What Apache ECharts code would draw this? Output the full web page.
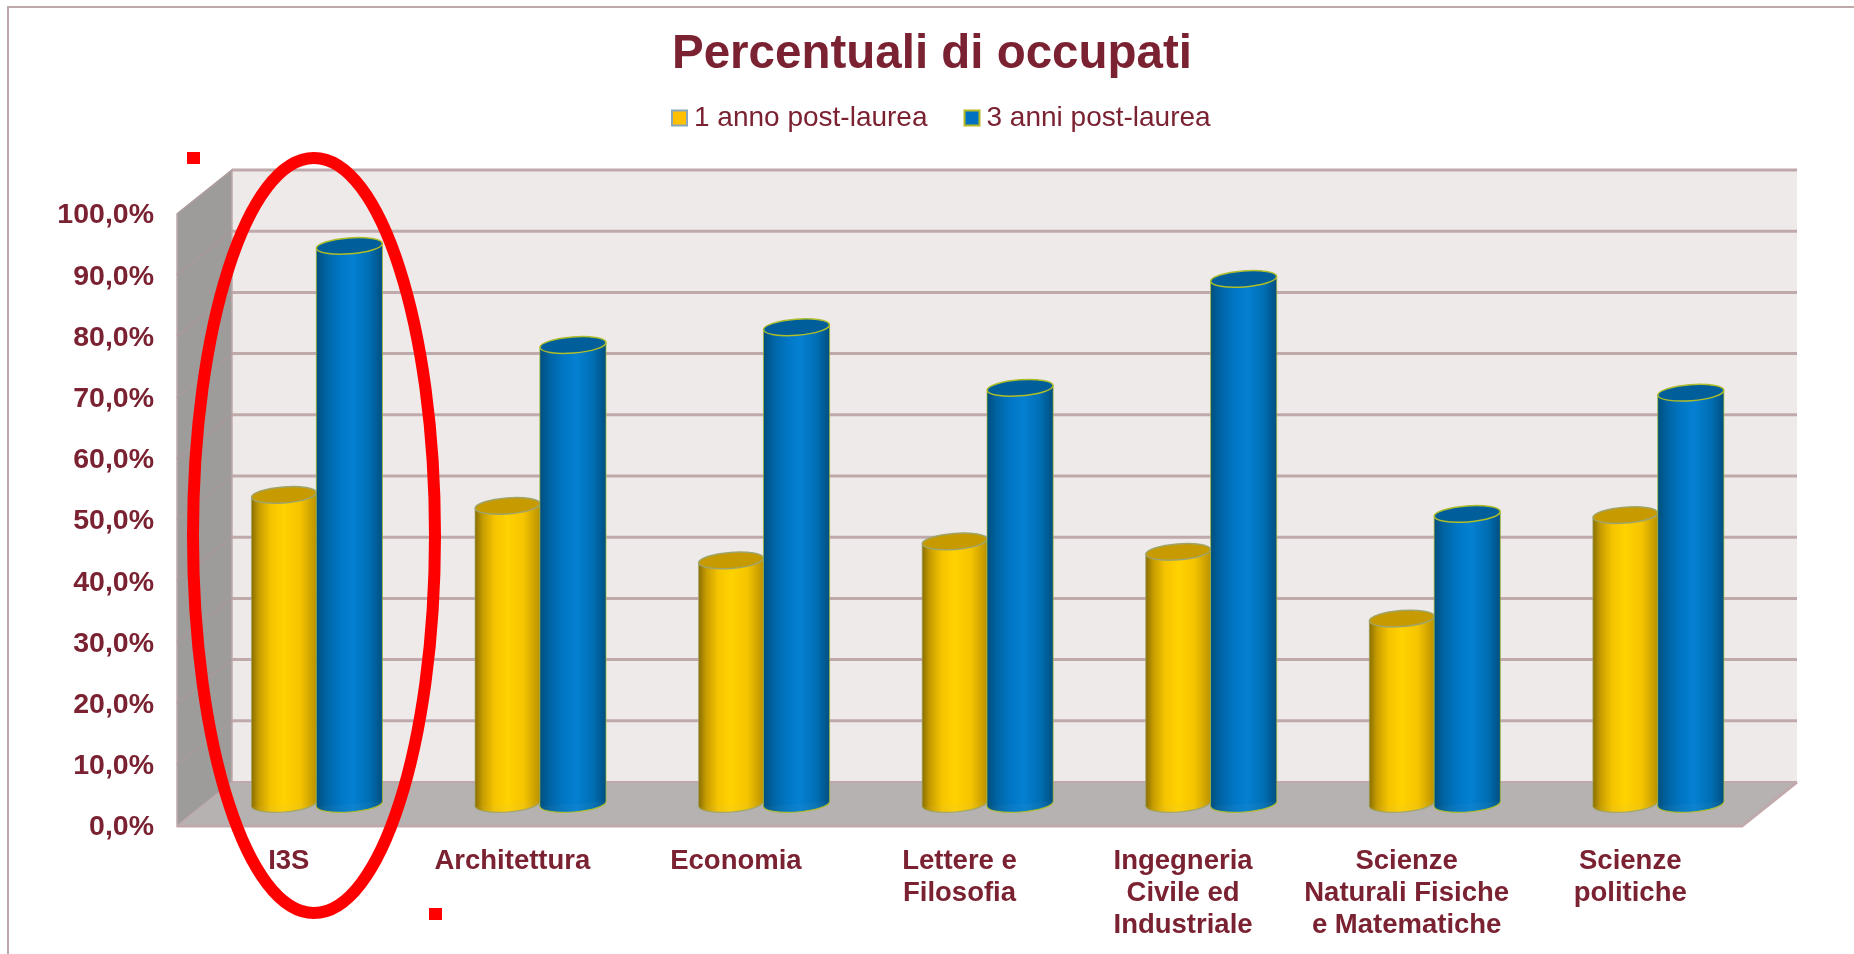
<!DOCTYPE html>
<html>
<head>
<meta charset="utf-8">
<style>
  html, body { margin: 0; padding: 0; background: #fff; }
  #chart { width: 1854px; height: 954px; }
</style>
<script src="https://cdn.jsdelivr.net/npm/echarts@6/dist/echarts.min.js"></script>
</head>
<body>
<div id="chart"></div>
<script>
const categories = ['I3S', 'Architettura', 'Economia', 'Lettere e\nFilosofia', 'Ingegneria\nCivile ed\nIndustriale', 'Scienze\nNaturali Fisiche\ne Matematiche', 'Scienze\npolitiche']
const unAnno = [50.5, 48.7, 39.8, 42.9, 41.2, 30.3, 47.2]
const treAnni = [91.2, 75.0, 77.9, 68.0, 85.8, 47.4, 67.2]
const yTicks = [10, 20, 30, 40, 50, 60, 70, 80, 90, 100]

const textColor = '#7b2232'
const lineColor = '#bfa9ab'
const depthX = 55 // profondita' della scena 3D
const depthY = -44
const tilt = 0.075

function hGradient (stops) {
  return new echarts.graphic.LinearGradient(0, 0, 1, 0, stops.map((c, i) => ({ offset: c[0], color: c[1] })))
}
const yellowBody = [[0, '#8a6f00'], [0.12, '#c79d00'], [0.3, '#f5c400'], [0.5, '#ffd200'], [0.75, '#f5c400'], [1, '#bb9200']]
const blueBody = [[0, '#004f7d'], [0.15, '#0064a4'], [0.35, '#0076c4'], [0.55, '#0480d2'], [0.8, '#006fb5'], [1, '#004f80']]

// pareti e pavimento del grafico 3D
function renderWalls (params, api) {
  const left = api.coord([0, 0])[0] - api.size([1, 0])[0] / 2
  const right = left + api.size([1, 0])[0] * categories.length
  const y0 = api.coord([0, 0])[1]
  const y100 = api.coord([0, 100])[1]
  const children = [
    { type: 'rect', shape: { x: left + depthX, y: y100 + depthY, width: right - left, height: y0 - y100 }, style: { fill: '#eeeaea' } },
    { type: 'polygon', shape: { points: [[left, y100], [left + depthX, y100 + depthY], [left + depthX, y0 + depthY], [left, y0]] }, style: { fill: '#9d9c9a', stroke: lineColor, lineWidth: 1.5 } }
  ]
  yTicks.forEach(t => {
    const y = api.coord([0, t])[1]
    children.push({ type: 'line', shape: { x1: left + depthX, y1: y + depthY, x2: right + depthX, y2: y + depthY }, style: { stroke: lineColor, lineWidth: 3 } })
    children.push({ type: 'line', shape: { x1: left, y1: y, x2: left + depthX, y2: y + depthY }, style: { stroke: '#aa9a9b', lineWidth: 1.5 } })
  })
  children.push({ type: 'polygon', shape: { points: [[left, y0], [left + depthX, y0 + depthY], [right + depthX, y0 + depthY], [right, y0]] }, style: { fill: '#b6b2b1' } })
  children.push({ type: 'polyline', shape: { points: [[left + depthX, y0 + depthY], [right + depthX, y0 + depthY]] }, style: { stroke: lineColor, lineWidth: 2, fill: 'none' } })
  children.push({ type: 'polyline', shape: { points: [[left, y0], [right, y0], [right + depthX, y0 + depthY]] }, style: { stroke: lineColor, lineWidth: 3, fill: 'none' } })
  children.push({ type: 'line', shape: { x1: left, y1: y0, x2: left + depthX, y2: y0 + depthY }, style: { stroke: lineColor, lineWidth: 1.5 } })
  return { type: 'group', children }
}

function cylinder (side, widthRatio, stops, capColor, edgeColor) {
  return function (params, api) {
    const band = api.size([1, 0])[0]
    const w = band * widthRatio
    const base = api.coord([api.value(0), 0])
    const top = api.coord([api.value(0), api.value(1)])
    const cx = base[0] + depthX / 2 + side * w / 2
    const yBase = base[1] + depthY / 2
    const yTop = top[1] + depthY / 2
    const rx = w / 2
    const ry = 8
    const t = rx * tilt
    const fill = hGradient(stops)
    return {
      type: 'group',
      children: [
        { type: 'ellipse', shape: { cx: cx, cy: yBase, rx: rx, ry: ry }, rotation: tilt, originX: cx, originY: yBase, style: { fill: fill, stroke: edgeColor, lineWidth: 1.2, opacity: 0.95 } },
        { type: 'polygon', shape: { points: [[cx - rx, yTop + t], [cx + rx, yTop - t], [cx + rx, yBase - t], [cx - rx, yBase + t]] }, style: { fill: fill } },
        { type: 'line', shape: { x1: cx - rx, y1: yTop + t, x2: cx - rx, y2: yBase + t }, style: { stroke: edgeColor, lineWidth: 1, opacity: 0.7 } },
        { type: 'line', shape: { x1: cx + rx, y1: yTop - t, x2: cx + rx, y2: yBase - t }, style: { stroke: edgeColor, lineWidth: 1, opacity: 0.7 } },
        { type: 'ellipse', shape: { cx: cx, cy: yTop, rx: rx, ry: ry }, rotation: tilt, originX: cx, originY: yTop, style: { fill: capColor, stroke: edgeColor, lineWidth: 1.5 } }
      ]
    }
  }
}

const chart = echarts.init(document.getElementById('chart'))
chart.setOption({
  animation: false,
  backgroundColor: '#fff',
  textStyle: { fontFamily: 'Liberation Sans' },
  title: {
    text: 'Percentuali di occupati',
    left: 672,
    top: 31,
    padding: 0,
    textStyle: { color: textColor, fontSize: 47.5, fontWeight: 'bold', fontFamily: 'Liberation Sans' }
  },
  legend: {
    data: ['1 anno post-laurea', '3 anni post-laurea'],
    left: 671,
    top: 104,
    padding: 0,
    icon: 'rect',
    itemWidth: 15,
    itemHeight: 15,
    itemGap: 36,
    textStyle: { color: textColor, fontSize: 28, fontFamily: 'Liberation Sans', padding: [0, 0, 0, 2] }
  },
  grid: { left: 177, right: 112, top: 214, bottom: 128 },
  xAxis: {
    type: 'category',
    data: categories,
    axisLine: { show: false },
    axisTick: { show: false },
    axisLabel: { color: textColor, fontSize: 27.5, fontWeight: 'bold', lineHeight: 32, margin: 19, interval: 0, fontFamily: 'Liberation Sans' }
  },
  yAxis: {
    type: 'value',
    min: 0,
    max: 100,
    interval: 10,
    axisLine: { show: false },
    axisTick: { show: false },
    splitLine: { show: false },
    axisLabel: {
      color: textColor,
      fontSize: 28.5,
      fontWeight: 'bold',
      margin: 23,
      verticalAlign: 'top',
      padding: [-13, 0, 0, 0],
      fontFamily: 'Liberation Sans',
      formatter: v => v.toFixed(1).replace('.', ',') + '%'
    }
  },
  series: [
    {
      name: 'pareti',
      type: 'custom',
      silent: true,
      clip: false,
      z: 1,
      renderItem: renderWalls,
      data: [[0, 0]]
    },
    {
      name: '1 anno post-laurea',
      type: 'custom',
      clip: false,
      z: 2,
      itemStyle: { color: '#ffc000', borderColor: '#8aa6bd', borderWidth: 1.5 },
      renderItem: cylinder(-1, 0.29, yellowBody, '#c79a00', '#9fa56a'),
      encode: { x: 0, y: 1 },
      data: unAnno.map((v, i) => [i, v])
    },
    {
      name: '3 anni post-laurea',
      type: 'custom',
      clip: false,
      z: 3,
      itemStyle: { color: '#0070c0', borderColor: '#b5b820', borderWidth: 1.5 },
      renderItem: cylinder(1, 0.296, blueBody, '#005f9a', '#aebd2a'),
      encode: { x: 0, y: 1 },
      data: treAnni.map((v, i) => [i, v])
    }
  ],
  graphic: [
    // cornice della diapositiva
    { type: 'polyline', z: 0, shape: { points: [[8, 954], [8, 7], [1854, 7]] }, style: { stroke: lineColor, lineWidth: 2, fill: 'none' } },
    // evidenziazione I3S
    { type: 'ellipse', z: 10, shape: { cx: 314, cy: 535.5, rx: 121, ry: 377.5 }, style: { fill: 'none', stroke: '#ff0000', lineWidth: 12 } },
    { type: 'rect', z: 10, shape: { x: 187, y: 152, width: 13, height: 12 }, style: { fill: '#ff0000' } },
    { type: 'rect', z: 10, shape: { x: 429, y: 908, width: 13, height: 12 }, style: { fill: '#ff0000' } }
  ]
})
</script>
</body>
</html>
